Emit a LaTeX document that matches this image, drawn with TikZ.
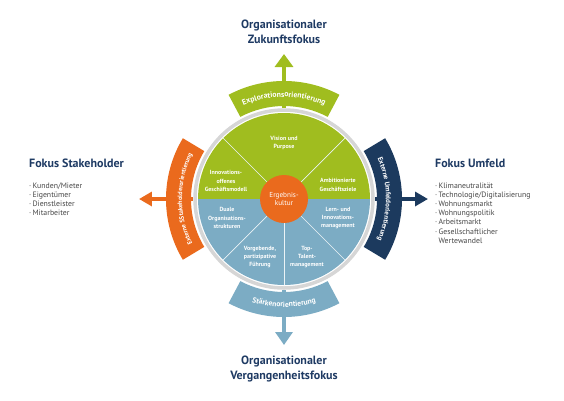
\documentclass[tikz,border=0pt]{standalone}
\usepackage{fontspec}
\setmainfont{PT Sans}
\usetikzlibrary{arrows.meta, positioning, decorations.text}
\definecolor{wheelgreen}{RGB}{160,189,31}
\definecolor{wheelblue}{RGB}{124,172,196}
\definecolor{wheelorange}{RGB}{234,106,29}
\definecolor{wheelnavy}{RGB}{28,58,94}
\definecolor{ringgray}{RGB}{214,214,214}
\definecolor{headnavy}{RGB}{30,58,99}
\definecolor{listgray}{RGB}{70,70,70}

\begin{document}
\begin{tikzpicture}[
    x=1pt, y=1pt,
    sectortext/.style={font=\fontsize{6}{8.3}\selectfont\bfseries, text=white, align=center, inner sep=0pt},
    headtext/.style={font=\fontsize{12}{14.5}\selectfont\bfseries, text=headnavy, align=center, inner sep=0pt},
    listtext/.style={font=\fontsize{7.8}{9.2}\selectfont, text=listgray, align=left, inner sep=0pt},
    divider/.style={draw=white!85!wheelblue, line width=0.7pt},
    focusarrow/.style={line width=4.5pt, -{Triangle[length=13pt, width=#1]}},
    bandtext/.style={decorate, decoration={text along path, text align=center, text color=white, text={#1}}}
]
\useasboundingbox (-284,-201) rectangle (280,199);

% Wheel outline (used as anchor for the arrows)
\node[circle, minimum size=182pt, inner sep=0pt] (wheel) at (0,0) {};

% Arrow tips
\coordinate (uptip) at (0,145);
\coordinate (downtip) at (0,-146);
\coordinate (lefttip) at (-145,0);
\coordinate (righttip) at (144,0);

% Arrows
\draw[focusarrow=18pt, wheelgreen] (wheel.north) -- (uptip);
\draw[focusarrow=17pt, wheelblue] (wheel.south) -- (downtip);
\draw[focusarrow=14pt, wheelorange] (wheel.west) -- (lefttip);
\draw[focusarrow=14pt, wheelnavy] (wheel.east) -- (righttip);

% Bands
\fill[wheelgreen] (62:93pt) arc[start angle=62, end angle=118, radius=93pt] -- (118:118pt) arc[start angle=118, end angle=62, radius=118pt] -- cycle;
\fill[wheelblue] (242:93pt) arc[start angle=242, end angle=298, radius=93pt] -- (298:118pt) arc[start angle=298, end angle=242, radius=118pt] -- cycle;
\fill[wheelorange] (149:93pt) arc[start angle=149, end angle=211, radius=93pt] -- (211:118pt) arc[start angle=211, end angle=149, radius=118pt] -- cycle;
\fill[wheelnavy] (-31:93pt) arc[start angle=-31, end angle=31, radius=93pt] -- (31:118pt) arc[start angle=31, end angle=-31, radius=118pt] -- cycle;

% Band labels
\path[bandtext={|\fontsize{7.8}{8}\selectfont\bfseries|Explorationsorientierung}] (122:102pt) arc[start angle=122, end angle=58, radius=102pt];
\path[bandtext={|\fontsize{7.6}{8}\selectfont\bfseries|Stärkenorientierung}] (238:108pt) arc[start angle=238, end angle=302, radius=108pt];
\path[bandtext={|\fontsize{6.4}{7}\selectfont\bfseries|Externe SStakeholderorientierung}] (214:102pt) arc[start angle=214, end angle=146, radius=102pt];
\path[bandtext={|\fontsize{7}{7}\selectfont\bfseries|Externe Umfeldorientierung}] (34:102pt) arc[start angle=34, end angle=-34, radius=102pt];

% Wheel
\fill[wheelgreen] (0:86pt) arc[start angle=0, end angle=180, radius=86pt] -- cycle;
\fill[wheelblue] (180:86pt) arc[start angle=180, end angle=360, radius=86pt] -- cycle;
\draw[ringgray, line width=3.5pt] (0,0) circle[radius=89pt];
\foreach \a in {45,135,225,270,315}
    \draw[divider] (\a:24pt) -- (\a:86pt);
\node[circle, fill=wheelorange, minimum size=48pt, inner sep=0pt, font=\fontsize{7.2}{8.3}\selectfont, text=white, align=center] (ergebnis) at (0,0) {Ergebnis-\\kultur};

% Sector labels
\node[sectortext] (vision) at (0,56) {Vision und\\Purpose};
\node[sectortext] (innov) at (-58,18) {Innovations-\\offenes\\Geschäftsmodell};
\node[sectortext] (ambit) at (54,14) {Ambitionierte\\Geschäftsziele};
\node[sectortext] (duale) at (-57,-19) {Duale\\Organisations-\\strukturen};
\node[sectortext] (lern) at (54,-19) {Lern- und\\Innovations-\\management};
\node[sectortext] (vorgeb) at (-24,-58) {Vorgebende,\\partizipative\\Führung};
\node[sectortext] (talent) at (23,-58) {Top-\\Talent-\\management};

% Titles
\node[headtext] (zukunft) at (0,167) {Organisationaler\\Zukunftsfokus};
\node[headtext] (vergangen) at (0,-170) {Organisationaler\\Vergangenheitsfokus};

% Focus lists
\node[headtext, anchor=west] (stakehead) at (-255,36) {Fokus Stakeholder};
\node[listtext, below=14.8pt of stakehead.south west, anchor=north west] (stakelist) {·\,Kunden/Mieter\\·\,Eigentümer\\·\,Dienstleister\\·\,Mitarbeiter};
\node[headtext, anchor=west] (umfeldhead) at (151,36) {Fokus Umfeld};
\node[listtext, below=14.8pt of umfeldhead.south west, anchor=north west] (umfeldlist) {·\,Klimaneutralität\\·\,Technologie/Digitalisierung\\·\,Wohnungsmarkt\\·\,Wohnungspolitik\\·\,Arbeitsmarkt\\·\,Gesellschaftlicher\\\phantom{·\,}Wertewandel};

\end{tikzpicture}
\end{document}
